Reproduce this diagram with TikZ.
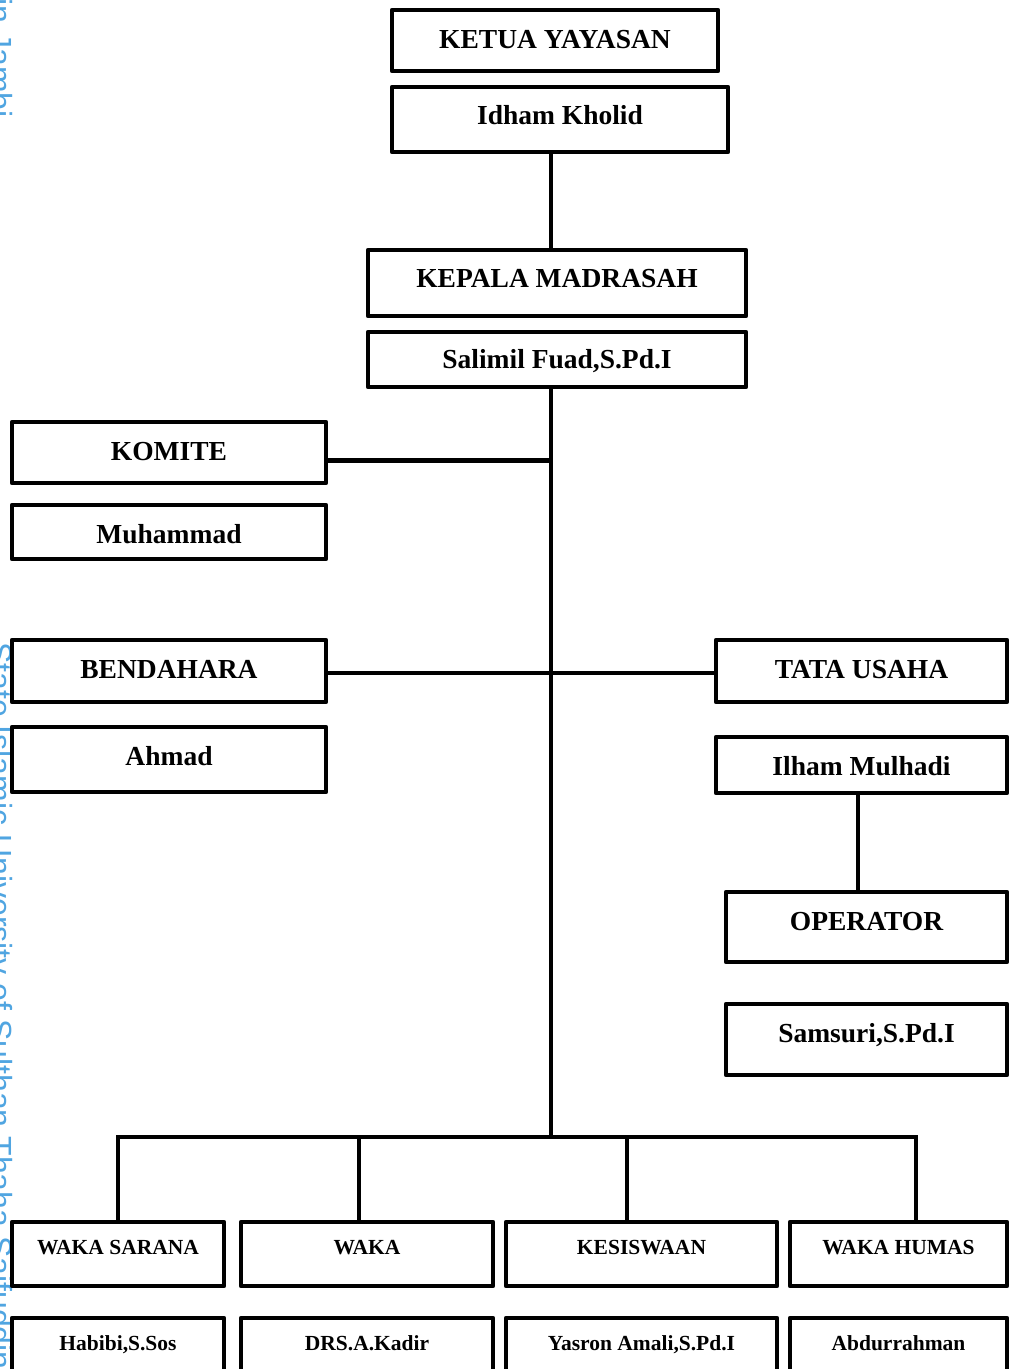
\documentclass[tikz,border=0pt]{standalone}
\usepackage{fontspec}
\setmainfont{Liberation Serif}
\newfontfamily\wmfont{Liberation Sans}
\usetikzlibrary{calc}
\definecolor{wmblue}{RGB}{80,165,225}
\tikzset{
  box/.style={draw=black, line width=4.2pt, line join=round, anchor=north west,
    inner ysep=0pt, inner xsep=2pt, outer sep=0pt, align=center},
  conn/.style={draw=black, line width=4.4pt, line join=miter},
  wm/.style={text=wmblue, font=\wmfont\fontsize{32}{32}\selectfont, rotate=-90, inner sep=0pt}
}
% name, left, top, right, bottom, baseline, font size, text
\newcommand\obox[8]{%
  \pgfmathsetmacro\obw{#4-#2}%
  \pgfmathsetmacro\obth{#6-#3}%
  \pgfmathsetmacro\obtd{#5-#6}%
  \node[box, font=\fontsize{#7}{#7}\selectfont\bfseries, minimum width=\obw pt,
    text height=\obth pt, text depth=\obtd pt] (#1) at (#2,#3) {#8};}
\begin{document}
\begin{tikzpicture}[x=1pt,y=-1pt]
\clip (0,0) rectangle (1009,1369);
\fill[white] (0,0) rectangle (1009,1369);
% watermark (cut off at the left edge, as in the reference)
\node[wm, anchor=base west] (wm1) at (-10,642) {State Islamic University of Sulthan Thaha Saifuddin Jambi};
\node[wm, anchor=base east] (wm2) at (-10,118) {State Islamic University of Sulthan Thaha Saifuddin Jambi};
% boxes
\obox{ketua}{392}{10}{718}{71}{48}{27.5}{KETUA YAYASAN}
\obox{idham}{392}{87}{728}{152}{124}{27.5}{Idham Kholid}
\obox{kepala}{368}{250}{746}{316}{287}{27.5}{KEPALA MADRASAH}
\obox{salimil}{368}{332}{746}{387}{368}{27.5}{Salimil Fuad,S.Pd.I}
\obox{komite}{12}{422}{326}{483}{460}{27.5}{KOMITE}
\obox{muhammad}{12}{505}{326}{559}{543}{27.5}{Muhammad}
\obox{bendahara}{12}{640}{326}{702}{678}{27.5}{BENDAHARA}
\obox{ahmad}{12}{727}{326}{792}{765}{27.5}{Ahmad}
\obox{tata}{716}{640}{1007}{702}{678}{27.5}{TATA USAHA}
\obox{ilham}{716}{737}{1007}{793}{775}{27.5}{Ilham Mulhadi}
\obox{operator}{726}{892}{1007}{962}{930}{27.5}{OPERATOR}
\obox{samsuri}{726}{1004}{1007}{1075}{1042}{27.5}{Samsuri,S.Pd.I}
\obox{wakasarana}{12}{1222}{224}{1286}{1254}{21.5}{WAKA SARANA}
\obox{waka}{241}{1222}{493}{1286}{1254}{21.5}{WAKA}
\obox{kesiswaan}{506}{1222}{777}{1286}{1254}{21.5}{KESISWAAN}
\obox{humas}{790}{1222}{1007}{1286}{1254}{21.5}{WAKA HUMAS}
\obox{habibi}{12}{1318}{224}{1395}{1350}{21.5}{Habibi,S.Sos}
\obox{drs}{241}{1318}{493}{1395}{1350}{21.5}{DRS.A.Kadir}
\obox{yasron}{506}{1318}{777}{1395}{1350}{21.5}{Yasron Amali,S.Pd.I}
\obox{abdur}{790}{1318}{1007}{1395}{1350}{21.5}{Abdurrahman}
% connectors
\coordinate (trunk) at (551,0);
\coordinate (opx) at (858,0);
\coordinate (bus) at (551,1137);
\coordinate (d1) at (118,1137);
\coordinate (d2) at (359,1137);
\coordinate (d3) at (627,1137);
\coordinate (d4) at (916,1137);
\draw[conn] (idham.south -| trunk) -- (kepala.north -| trunk);
\draw[conn] (salimil.south -| trunk) -- (bus);
\draw[conn] ($(komite.east)+(0,8)$) -- ($(komite.east -| trunk)+(0,8)$);
\draw[conn] ($(bendahara.east)+(0,2)$) -- ($(tata.west)+(0,2)$);
\draw[conn] (ilham.south -| opx) -- (operator.north -| opx);
\draw[conn] (wakasarana.north -| d1) -- (d1) -- (d4) -- (humas.north -| d4);
\draw[conn] (d2) -- (waka.north -| d2);
\draw[conn] (d3) -- (kesiswaan.north -| d3);
\end{tikzpicture}
\end{document}
